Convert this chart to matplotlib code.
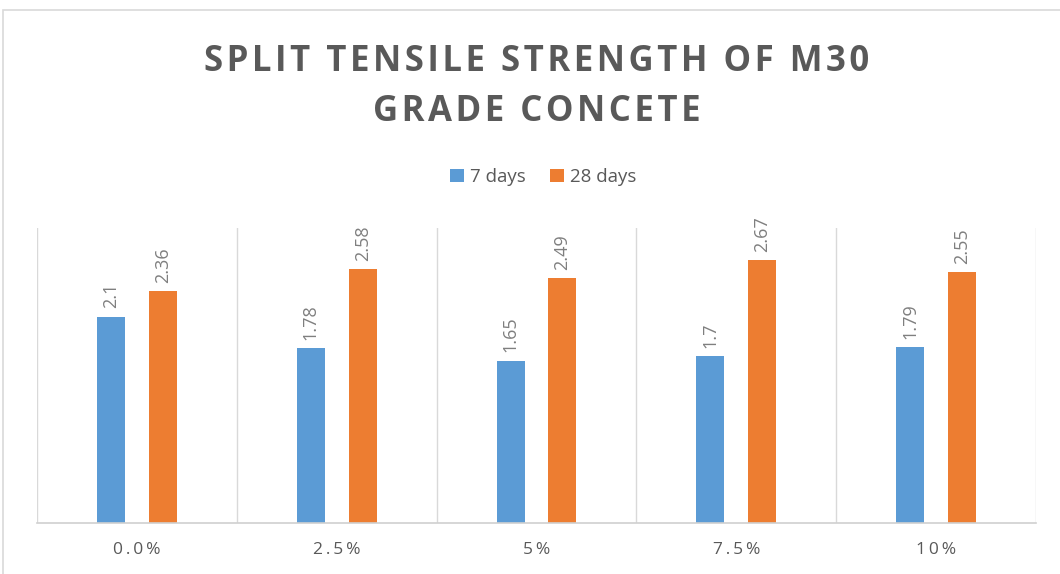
import numpy as np
import matplotlib.pyplot as plt
from matplotlib.patches import Rectangle

# values
categories = ['0.0%', '2.5%', '5%', '7.5%', '10%']
days7 = [2.1, 1.78, 1.65, 1.7, 1.79]
days28 = [2.36, 2.58, 2.49, 2.67, 2.55]

blue = '#5B9BD5'
orange = '#ED7D31'
grey = '#595959'

plt.rcParams['font.family'] = ['Open Sans', 'DejaVu Sans']

def spaced(s, sp='\u200a'):
    return sp.join(s)

fig = plt.figure(figsize=(10.6, 5.74), dpi=100)
ax = fig.add_axes([37/1060, 51/574, 999/1060, 295/574])

# outer chart border
fig.patches.append(Rectangle((3/1060, -0.05), 1.1, (564/574) + 0.05, transform=fig.transFigure,
                             fill=False, edgecolor='#d9d9d9', linewidth=1.2))

x = np.arange(len(categories))
w = 0.14
b1 = ax.bar(x - 0.13, days7, w, color=blue, label='7 days')
b2 = ax.bar(x + 0.13, days28, w, color=orange, label='28 days')

for bars, vals in [(b1, days7), (b2, days28)]:
    for r, v in zip(bars, vals):
        ax.annotate(str(v), (r.get_x() + r.get_width()/2, v), xytext=(0, 6),
                    textcoords='offset points', rotation=90, ha='center', va='bottom',
                    fontsize=13, color='#7f7f7f')

ax.set_xlim(-0.5, len(categories) - 0.5)
ax.set_ylim(0, 3)
ax.set_yticks([])
ax.set_xticks(x)
ax.set_xticklabels([spaced(c, '\u2009') for c in categories], fontsize=12.5, color=grey)
ax.tick_params(axis='x', length=0, pad=14)
for b in np.arange(-0.5, len(categories), 1):
    ax.axvline(b, color='#d9d9d9', linewidth=1, zorder=0)
for s in ['top', 'right', 'left']:
    ax.spines[s].set_visible(False)
ax.spines['bottom'].set_color('#d0d0d0')
ax.spines['bottom'].set_linewidth(1.2)

fig.text(537/1060, 1 - 62/574, spaced('SPLIT TENSILE STRENGTH OF M30'), ha='center', va='center',
         fontsize=25, fontweight='bold', color=grey)
fig.text(537/1060, 1 - 112/574, spaced('GRADE CONCETE'), ha='center', va='center',
         fontsize=25, fontweight='bold', color=grey)

fig.legend(handles=[b1, b2], loc='center', bbox_to_anchor=(543/1060, 1 - 177/574), ncol=2,
           frameon=False, fontsize=13.5, labelcolor=grey, handlelength=0.75, handleheight=0.75,
           handletextpad=0.3, columnspacing=1.3)

fig.savefig('out.png', dpi=100)
